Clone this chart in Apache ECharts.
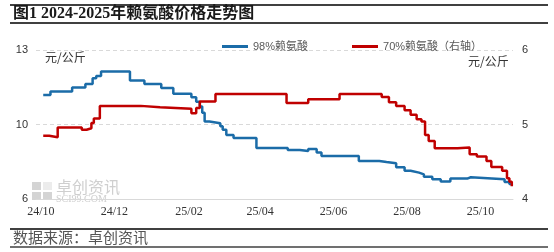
<!DOCTYPE html>
<html><head><meta charset="utf-8">
<script src="https://cdn.jsdelivr.net/npm/echarts@6/dist/echarts.min.js"></script>
<style>html,body{margin:0;padding:0;background:#fff}#c{width:554px;height:252px}</style>
</head><body><div id="c"></div>
<script>
const titleText = '图1 2024-2025年赖氨酸价格走势图';
const sourceText = '数据来源：卓创资讯';
const seriesNames = ['98%赖氨酸', '70%赖氨酸（右轴）'];
const unitText = '元/公斤';

const blueDates = ['2024-10-03','2024-10-09','2024-10-27','2024-11-07','2024-11-13','2024-11-16','2024-11-20','2024-12-14','2024-12-26','2025-01-09','2025-01-19','2025-02-03','2025-02-07','2025-02-10','2025-02-12','2025-02-14','2025-02-18','2025-02-27','2025-03-01','2025-03-04','2025-03-10','2025-03-29','2025-04-24','2025-05-04','2025-05-11','2025-05-18','2025-05-22','2025-06-22','2025-07-09','2025-07-15','2025-07-23','2025-07-30','2025-08-04','2025-08-11','2025-08-15','2025-08-22','2025-08-29','2025-09-06','2025-09-20','2025-09-23','2025-10-21','2025-10-25','2025-10-27'];
const blueValues = [10.89,11.05,11.24,11.40,11.67,11.78,11.99,11.57,11.40,11.21,10.94,10.78,10.57,10.35,10.05,9.64,9.56,9.42,9.25,9.01,8.87,8.40,8.30,8.25,8.35,8.18,8.02,7.79,7.74,7.68,7.49,7.33,7.24,7.16,7.05,6.93,6.82,6.96,7.02,6.93,6.80,6.70,6.64];

const redDates = ['2024-10-03','2024-10-08','2024-10-15','2024-11-04','2024-11-08','2024-11-12','2024-11-14','2024-11-19','2024-12-23','2025-01-08','2025-02-03','2025-02-07','2025-02-10','2025-02-23','2025-04-23','2025-05-11','2025-06-06','2025-07-11','2025-07-17','2025-07-23','2025-07-30','2025-08-04','2025-08-09','2025-08-13','2025-08-16','2025-08-19','2025-08-24','2025-09-12','2025-09-22','2025-09-28','2025-10-06','2025-10-10','2025-10-19','2025-10-23','2025-10-25','2025-10-27'];
const redValues = [4.85,4.83,4.96,4.93,4.95,5.02,5.08,5.25,5.23,5.21,5.15,5.22,5.31,5.41,5.29,5.34,5.41,5.37,5.30,5.25,5.19,5.13,5.07,5.04,4.86,4.78,4.68,4.69,4.60,4.57,4.51,4.43,4.38,4.28,4.23,4.17];

const xTickDates = ['2024-10-01','2024-12-01','2025-02-01','2025-04-01','2025-06-01','2025-08-01','2025-10-01'];
const xRange = ['2024-09-27','2025-10-28'];
const dayZero = '2024-10-01';

function utc(s){const p=s.split('-').map(Number);return Date.UTC(p[0],p[1]-1,p[2]);}
function day(s){return Math.round((utc(s)-utc(dayZero))/86400000);}
function pad(n){return (n<10?'0':'')+n;}
function dayLabel(v){const d=new Date(utc(dayZero)+Math.round(v)*86400000);return pad(d.getUTCFullYear()%100)+'/'+pad(d.getUTCMonth()+1);}

const chart = echarts.init(document.getElementById('c'), null, {renderer:'canvas'});
const option = {
  animation:false,
  backgroundColor:'#fff',
  grid:{left:36,right:41,top:50,bottom:53},
  legend:{
    left:217, top:36, itemWidth:26, itemHeight:3, itemGap:44, icon:'rect',
    textStyle:{fontSize:11,color:'#595959',fontFamily:'"Liberation Sans","Noto Sans CJK SC"'},
    data:seriesNames
  },
  xAxis:{
    type:'value', min:day(xRange[0]), max:day(xRange[1]),
    axisLine:{lineStyle:{color:'#d9d9d9',width:1}},
    axisTick:{show:false},
    splitLine:{show:false},
    axisLabel:{
      customValues:xTickDates.map(day),
      margin:7,
      fontSize:12, color:'#333', fontFamily:'"Liberation Serif","DejaVu Serif"',
      formatter:dayLabel
    }
  },
  yAxis:[
    {type:'value',min:6,max:13,interval:3.5,
     axisLine:{show:false},axisTick:{show:false},
     splitLine:{lineStyle:{color:'#d9d9d9',type:[4,3]}},
     axisLabel:{margin:8,fontSize:11,color:'#333',fontFamily:'"Liberation Sans"',formatter:function(v){return v.toFixed(0);}}},
    {type:'value',min:4,max:6,interval:1,
     axisLine:{show:false},axisTick:{show:false},splitLine:{show:false},
     axisLabel:{margin:9,fontSize:11,color:'#333',fontFamily:'"Liberation Sans"'}}
  ],
  series:[
    {name:seriesNames[0],type:'line',step:'end',yAxisIndex:0,showSymbol:false,
     color:'#1b6ca8',lineStyle:{width:2.5,color:'#1b6ca8'},
     data:blueDates.map((d,i)=>[day(d),blueValues[i]])},
    {name:seriesNames[1],type:'line',step:'end',yAxisIndex:1,showSymbol:false,
     color:'#c00000',lineStyle:{width:2.5,color:'#c00000'},
     data:redDates.map((d,i)=>[day(d),redValues[i]])}
  ],
  graphic:[
    {type:'line',shape:{x1:10,y1:5,x2:548,y2:5},style:{stroke:'#404040',lineWidth:2},silent:true},
    {type:'line',shape:{x1:10,y1:23,x2:548,y2:23},style:{stroke:'#404040',lineWidth:2},silent:true},
    {type:'text',left:13,top:6,style:{text:titleText,font:'bold 16px "Liberation Serif","Noto Sans CJK SC"',fill:'#1a1a1a'},silent:true},
    {type:'text',left:45,top:51,style:{text:unitText,font:'12px "Noto Sans CJK SC"',fill:'#333'},silent:true},
    {type:'text',left:468,top:55,style:{text:unitText,font:'12px "Noto Sans CJK SC"',fill:'#333'},silent:true},
    {type:'rect',shape:{x:32,y:182,width:9,height:8},style:{fill:'#d4d4d4'},silent:true},
    {type:'rect',shape:{x:43,y:182,width:9,height:8},style:{fill:'#ececec'},silent:true},
    {type:'rect',shape:{x:32,y:192,width:9,height:8},style:{fill:'#d4d4d4'},silent:true},
    {type:'rect',shape:{x:43,y:192,width:9,height:8},style:{fill:'#d4d4d4'},silent:true},
    {type:'text',left:56,top:179,style:{text:'卓创资讯',font:'16px "Noto Sans CJK SC"',fill:'#cfcfcf'},silent:true},
    {type:'text',left:56,top:194,style:{text:'SCI99.COM',font:'10px "Liberation Serif"',fill:'#cfcfcf'},silent:true},
    {type:'line',shape:{x1:10,y1:229,x2:548,y2:229},style:{stroke:'#404040',lineWidth:2},silent:true},
    {type:'text',left:13,top:230,style:{text:sourceText,font:'15px "Noto Sans CJK SC"',fill:'#555'},silent:true},
    {type:'line',shape:{x1:10,y1:247,x2:548,y2:247},style:{stroke:'#404040',lineWidth:1.5},silent:true}
  ]
};
chart.setOption(option);
</script></body></html>
